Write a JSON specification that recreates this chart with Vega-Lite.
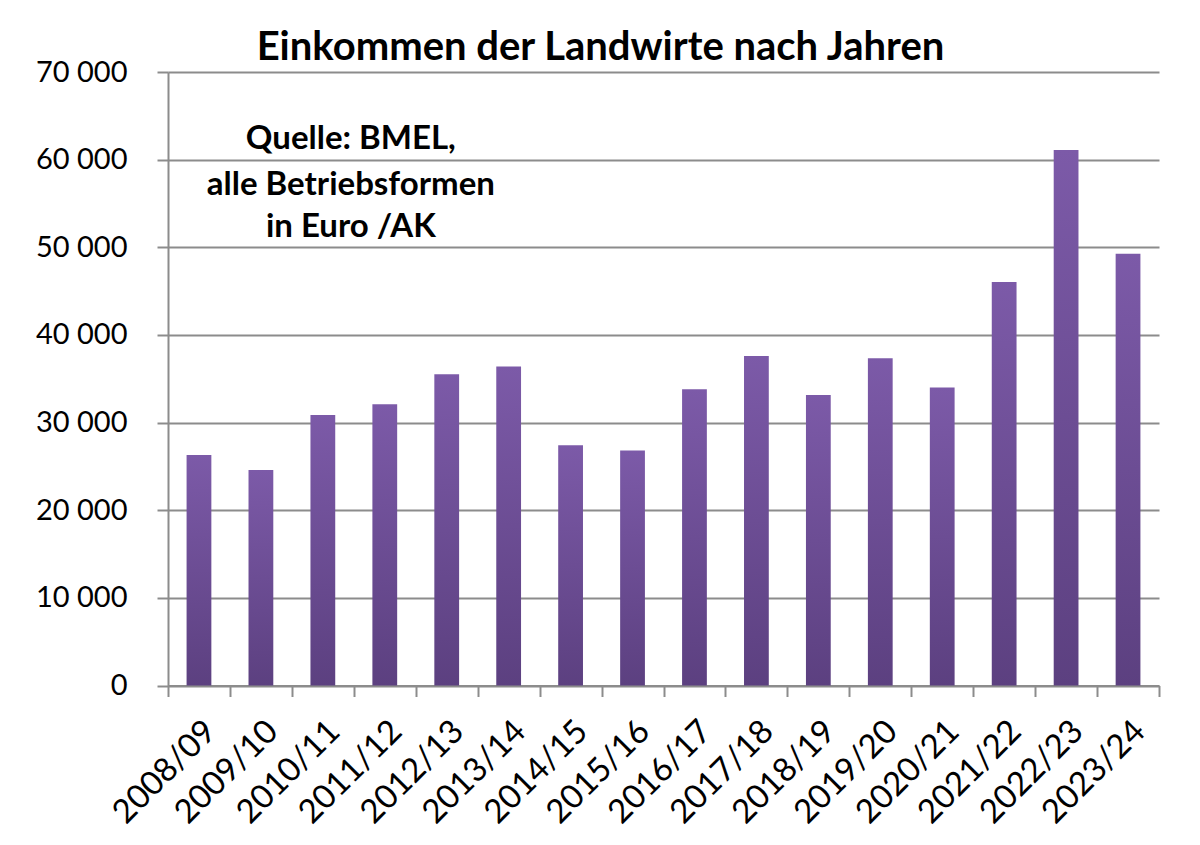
{
  "$schema": "https://vega.github.io/schema/vega-lite/v6.json",
  "width": 991,
  "height": 613.5,
  "autosize": "none",
  "padding": {"left": 168, "top": 72, "right": 41, "bottom": 159.5},
  "background": "white",
  "title": {
    "text": "Einkommen der Landwirte nach Jahren",
    "font": "Lato",
    "fontSize": 40,
    "fontWeight": "bold",
    "color": "black",
    "anchor": "middle",
    "dx": -63,
    "offset": -10
  },
  "config": {"view": {"stroke": null}},
  "layer": [
    {
      "data": {
        "values": [
          {"jahr": "2008/09", "einkommen": 26300},
          {"jahr": "2009/10", "einkommen": 24600},
          {"jahr": "2010/11", "einkommen": 30850},
          {"jahr": "2011/12", "einkommen": 32100},
          {"jahr": "2012/13", "einkommen": 35500},
          {"jahr": "2013/14", "einkommen": 36400},
          {"jahr": "2014/15", "einkommen": 27400},
          {"jahr": "2015/16", "einkommen": 26800},
          {"jahr": "2016/17", "einkommen": 33800},
          {"jahr": "2017/18", "einkommen": 37600},
          {"jahr": "2018/19", "einkommen": 33150},
          {"jahr": "2019/20", "einkommen": 37350},
          {"jahr": "2020/21", "einkommen": 34000},
          {"jahr": "2021/22", "einkommen": 46050},
          {"jahr": "2022/23", "einkommen": 61100},
          {"jahr": "2023/24", "einkommen": 49250}
        ]
      },
      "mark": {
        "type": "bar",
        "width": {"band": 0.4},
        "color": {
          "gradient": "linear",
          "x1": 0, "y1": 0, "x2": 0, "y2": 1,
          "stops": [
            {"offset": 0, "color": "#7C5AA8"},
            {"offset": 1, "color": "#5C4080"}
          ]
        }
      },
      "encoding": {
        "x": {
          "field": "jahr",
          "type": "nominal",
          "sort": null,
          "scale": {"paddingInner": 0, "paddingOuter": 0},
          "axis": {
            "title": null,
            "labelAngle": -45,
            "labelFont": "Lato",
            "labelFontSize": 33,
            "labelColor": "black",
            "labelPadding": 18,
            "tickBand": "extent",
            "tickColor": "#8c8c8c",
            "tickSize": 11,
            "tickWidth": 2,
            "domainColor": "#8c8c8c",
            "domainWidth": 2,
            "grid": false
          }
        },
        "y": {
          "field": "einkommen",
          "type": "quantitative",
          "scale": {"domain": [0, 70000], "nice": false},
          "axis": {
            "title": null,
            "values": [0, 10000, 20000, 30000, 40000, 50000, 60000, 70000],
            "labelExpr": "replace(format(datum.value, ','), ',', ' ')",
            "labelFont": "Lato",
            "labelFontSize": 29,
            "labelColor": "black",
            "labelPadding": 30,
            "tickSize": 11,
            "tickColor": "#8c8c8c",
            "tickWidth": 2,
            "domainColor": "#8c8c8c",
            "domainWidth": 2,
            "gridColor": "#8c8c8c",
            "gridWidth": 2
          }
        }
      }
    },
    {
      "data": {
        "values": [
          {"jahr": "2010/11", "y": 62300, "zeile": "Quelle: BMEL,"},
          {"jahr": "2010/11", "y": 57150, "zeile": "alle Betriebsformen"},
          {"jahr": "2010/11", "y": 52300, "zeile": "in Euro /AK"}
        ]
      },
      "mark": {
        "type": "text",
        "font": "Lato",
        "fontSize": 33,
        "fontWeight": "bold",
        "color": "black",
        "align": "center",
        "baseline": "middle",
        "dx": 28
      },
      "encoding": {
        "x": {"field": "jahr", "type": "nominal", "sort": null},
        "y": {"field": "y", "type": "quantitative"},
        "text": {"field": "zeile"}
      }
    }
  ]
}
